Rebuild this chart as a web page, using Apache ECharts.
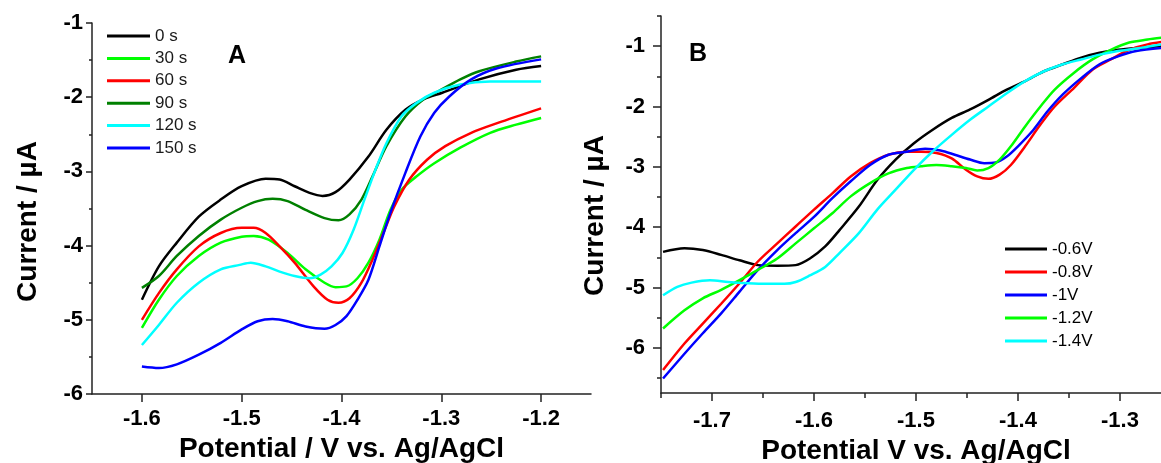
<!DOCTYPE html>
<html>
<head>
<meta charset="utf-8">
<script src="https://cdn.jsdelivr.net/npm/echarts@6/dist/echarts.min.js"></script>
<style>
  html, body { margin: 0; padding: 0; background: #fff; }
  #main { width: 1161px; height: 463px; }
</style>
</head>
<body>
<div id="main"></div>
<script>
// panel A : deposition time series  [potential V, current uA]
var namesA = ['0 s', '30 s', '60 s', '90 s', '120 s', '150 s'];
var colorsA = ['#000000', '#00ff00', '#ff0000', '#008000', '#00ffff', '#0000ff'];

var a0 = [[-1.6,-4.73],[-1.583,-4.28],[-1.565,-3.96],[-1.543,-3.61],[-1.521,-3.38],[-1.5,-3.2],[-1.476,-3.10],[-1.462,-3.11],[-1.447,-3.20],[-1.432,-3.29],[-1.419,-3.33],[-1.406,-3.28],[-1.392,-3.11],[-1.373,-2.80],[-1.355,-2.44],[-1.336,-2.17],[-1.318,-2.03],[-1.299,-1.94],[-1.262,-1.76],[-1.225,-1.63],[-1.2,-1.58]];
var a30 = [[-1.6,-5.11],[-1.583,-4.73],[-1.565,-4.41],[-1.543,-4.14],[-1.521,-3.96],[-1.5,-3.88],[-1.488,-3.87],[-1.473,-3.92],[-1.454,-4.10],[-1.436,-4.32],[-1.417,-4.50],[-1.406,-4.56],[-1.395,-4.55],[-1.384,-4.44],[-1.373,-4.23],[-1.362,-3.92],[-1.351,-3.52],[-1.340,-3.25],[-1.325,-3.07],[-1.307,-2.89],[-1.281,-2.68],[-1.251,-2.48],[-1.225,-2.37],[-1.2,-2.28]];
var a60 = [[-1.6,-5.0],[-1.583,-4.64],[-1.565,-4.32],[-1.543,-4.01],[-1.521,-3.83],[-1.5,-3.76],[-1.488,-3.76],[-1.476,-3.83],[-1.462,-4.01],[-1.447,-4.23],[-1.428,-4.55],[-1.414,-4.73],[-1.403,-4.77],[-1.392,-4.71],[-1.380,-4.50],[-1.369,-4.19],[-1.358,-3.83],[-1.347,-3.47],[-1.332,-3.11],[-1.314,-2.84],[-1.296,-2.66],[-1.270,-2.48],[-1.244,-2.35],[-1.2,-2.15]];
var a90 = [[-1.6,-4.57],[-1.583,-4.41],[-1.565,-4.14],[-1.543,-3.87],[-1.521,-3.65],[-1.5,-3.49],[-1.484,-3.40],[-1.469,-3.37],[-1.454,-3.40],[-1.436,-3.52],[-1.417,-3.63],[-1.403,-3.66],[-1.392,-3.58],[-1.380,-3.38],[-1.369,-3.07],[-1.355,-2.66],[-1.336,-2.26],[-1.318,-2.03],[-1.303,-1.92],[-1.281,-1.76],[-1.262,-1.65],[-1.225,-1.52],[-1.2,-1.45]];
var a120 = [[-1.6,-5.34],[-1.583,-5.07],[-1.565,-4.77],[-1.543,-4.50],[-1.521,-4.32],[-1.502,-4.26],[-1.491,-4.23],[-1.476,-4.28],[-1.462,-4.35],[-1.447,-4.41],[-1.432,-4.44],[-1.421,-4.39],[-1.410,-4.28],[-1.399,-4.10],[-1.388,-3.79],[-1.377,-3.38],[-1.366,-2.98],[-1.355,-2.62],[-1.340,-2.26],[-1.325,-2.08],[-1.307,-1.94],[-1.281,-1.83],[-1.251,-1.79],[-1.2,-1.79]];
var a150 = [[-1.6,-5.63],[-1.583,-5.65],[-1.565,-5.60],[-1.543,-5.47],[-1.521,-5.31],[-1.5,-5.13],[-1.484,-5.02],[-1.469,-4.99],[-1.454,-5.02],[-1.436,-5.09],[-1.417,-5.12],[-1.406,-5.07],[-1.395,-4.95],[-1.384,-4.73],[-1.373,-4.46],[-1.362,-4.01],[-1.351,-3.56],[-1.336,-3.02],[-1.321,-2.53],[-1.307,-2.21],[-1.292,-1.99],[-1.270,-1.76],[-1.244,-1.61],[-1.2,-1.49]];
var dataA = [a0, a30, a60, a90, a120, a150];

// panel B : deposition potential series
var namesB = ['-0.6V', '-0.8V', '-1V', '-1.2V', '-1.4V'];
var colorsB = ['#000000', '#ff0000', '#0000ff', '#00ff00', '#00ffff'];

var b06 = [[-1.748,-4.41],[-1.727,-4.35],[-1.709,-4.38],[-1.691,-4.46],[-1.673,-4.55],[-1.655,-4.63],[-1.636,-4.64],[-1.618,-4.63],[-1.604,-4.52],[-1.589,-4.32],[-1.575,-4.05],[-1.556,-3.66],[-1.538,-3.22],[-1.520,-2.88],[-1.502,-2.61],[-1.484,-2.39],[-1.465,-2.19],[-1.447,-2.05],[-1.429,-1.89],[-1.411,-1.72],[-1.393,-1.58],[-1.375,-1.42],[-1.356,-1.30],[-1.338,-1.19],[-1.320,-1.11],[-1.302,-1.06],[-1.284,-1.03],[-1.259,-1.0]];
var b08 = [[-1.748,-6.37],[-1.727,-5.93],[-1.709,-5.60],[-1.691,-5.27],[-1.673,-4.93],[-1.655,-4.57],[-1.636,-4.27],[-1.618,-3.99],[-1.600,-3.71],[-1.582,-3.44],[-1.564,-3.16],[-1.545,-2.94],[-1.527,-2.80],[-1.509,-2.75],[-1.495,-2.75],[-1.480,-2.77],[-1.465,-2.86],[-1.451,-3.05],[-1.440,-3.16],[-1.429,-3.20],[-1.418,-3.13],[-1.407,-2.97],[-1.393,-2.66],[-1.378,-2.30],[-1.364,-2.00],[-1.345,-1.69],[-1.327,-1.39],[-1.309,-1.22],[-1.291,-1.06],[-1.273,-0.97],[-1.259,-0.93]];
var b10 = [[-1.748,-6.51],[-1.727,-6.10],[-1.709,-5.76],[-1.691,-5.43],[-1.673,-5.07],[-1.655,-4.71],[-1.636,-4.38],[-1.618,-4.10],[-1.600,-3.83],[-1.582,-3.52],[-1.564,-3.24],[-1.545,-2.97],[-1.527,-2.80],[-1.509,-2.75],[-1.491,-2.70],[-1.476,-2.73],[-1.462,-2.80],[-1.447,-2.88],[-1.433,-2.94],[-1.422,-2.93],[-1.411,-2.83],[-1.400,-2.66],[-1.385,-2.39],[-1.371,-2.08],[-1.356,-1.80],[-1.338,-1.53],[-1.320,-1.30],[-1.302,-1.17],[-1.284,-1.08],[-1.259,-1.03]];
var b12 = [[-1.748,-5.68],[-1.727,-5.38],[-1.709,-5.18],[-1.691,-5.04],[-1.673,-4.88],[-1.655,-4.71],[-1.636,-4.52],[-1.618,-4.27],[-1.600,-4.02],[-1.582,-3.77],[-1.564,-3.49],[-1.545,-3.27],[-1.527,-3.11],[-1.509,-3.02],[-1.495,-2.99],[-1.480,-2.97],[-1.465,-2.99],[-1.451,-3.02],[-1.440,-3.06],[-1.429,-3.02],[-1.418,-2.88],[-1.407,-2.66],[-1.393,-2.33],[-1.378,-2.00],[-1.364,-1.72],[-1.345,-1.44],[-1.327,-1.22],[-1.309,-1.06],[-1.291,-0.94],[-1.273,-0.89],[-1.259,-0.86]];
var b14 = [[-1.748,-5.13],[-1.734,-4.99],[-1.720,-4.92],[-1.702,-4.88],[-1.684,-4.91],[-1.665,-4.93],[-1.647,-4.94],[-1.629,-4.94],[-1.618,-4.91],[-1.604,-4.80],[-1.589,-4.66],[-1.575,-4.43],[-1.556,-4.10],[-1.538,-3.71],[-1.520,-3.38],[-1.502,-3.05],[-1.484,-2.75],[-1.465,-2.47],[-1.447,-2.22],[-1.429,-2.00],[-1.411,-1.78],[-1.393,-1.58],[-1.375,-1.42],[-1.356,-1.30],[-1.338,-1.22],[-1.320,-1.14],[-1.302,-1.08],[-1.284,-1.04],[-1.259,-0.97]];
var dataB = [b06, b08, b10, b12, b14];

// tick values
var ticksAx = [-1.6, -1.5, -1.4, -1.3, -1.2];
var ticksBx = [-1.7, -1.6, -1.5, -1.4, -1.3];
var minorBx = [-1.75, -1.65, -1.55, -1.45, -1.35, -1.25];
var ticksBy = [-6, -5, -4, -3, -2, -1];
var minorBy = [-6.5, -5.5, -4.5, -3.5, -2.5, -1.5, -0.5];

var font = 'Liberation Sans, Arial, sans-serif';
var axisColor = '#222';

var chart = echarts.init(document.getElementById('main'));

var labelStyle = { color: '#000', fontSize: 22, fontWeight: 'bold', fontFamily: font };
var nameStyle = { color: '#000', fontSize: 28, fontWeight: 'bold', fontFamily: font };
var lineStyle = { color: axisColor, width: 1.5 };

var series = [];
dataA.forEach(function (d, i) {
  series.push({
    name: namesA[i], type: 'line', xAxisIndex: 0, yAxisIndex: 0,
    data: d, symbol: 'none', smooth: 0.3, color: colorsA[i],
    lineStyle: { width: 2.5 }
  });
});
dataB.forEach(function (d, i) {
  series.push({
    name: namesB[i], type: 'line', xAxisIndex: 1, yAxisIndex: 1,
    data: d, symbol: 'none', smooth: 0.3, color: colorsB[i],
    lineStyle: { width: 2.5 }
  });
});

var option = {
  backgroundColor: '#fff',
  animation: false,
  title: [
    { text: 'A', left: 223, top: 39, textStyle: { fontSize: 25, fontWeight: 'bold', color: '#000', fontFamily: font } },
    { text: 'B', left: 684, top: 37, textStyle: { fontSize: 25, fontWeight: 'bold', color: '#000', fontFamily: font } }
  ],
  legend: [
    {
      data: namesA, orient: 'vertical', left: 107, top: 27, padding: 0,
      icon: 'rect', itemWidth: 43, itemHeight: 3, itemGap: 4.4,
      textStyle: { fontSize: 17, color: '#1a1a1a', fontFamily: font, lineHeight: 18 }
    },
    {
      data: namesB, orient: 'vertical', left: 1005, top: 240, padding: 0,
      icon: 'rect', itemWidth: 42, itemHeight: 3, itemGap: 5,
      textStyle: { fontSize: 17, color: '#000', fontFamily: font, lineHeight: 18 }
    }
  ],
  grid: [
    { left: 92, top: 23, width: 499, height: 371, outerBoundsMode: 'none', containLabel: false },
    { left: 661, top: 16, width: 510, height: 377, outerBoundsMode: 'none', containLabel: false }
  ],
  xAxis: [
    {
      gridIndex: 0, type: 'value', position: 'bottom', min: -1.65, max: -1.15,
      name: 'Potential / V vs. Ag/AgCl', nameLocation: 'middle', nameGap: 38, nameTextStyle: nameStyle,
      axisLine: { onZero: false, lineStyle: lineStyle },
      axisTick: { customValues: ticksAx, length: 8, lineStyle: lineStyle },
      axisLabel: Object.assign({ customValues: ticksAx, margin: 14, formatter: function (v) { return v.toFixed(1); } }, labelStyle),
      splitLine: { show: false }
    },
    {
      gridIndex: 1, type: 'value', position: 'bottom', min: -1.75, max: -1.25,
      name: 'Potential V vs. Ag/AgCl', nameLocation: 'middle', nameGap: 38, nameTextStyle: nameStyle,
      axisLine: { onZero: false, lineStyle: lineStyle },
      axisTick: { customValues: ticksBx, length: 8, lineStyle: lineStyle },
      axisLabel: Object.assign({ customValues: ticksBx, margin: 17, formatter: function (v) { return v.toFixed(1); } }, labelStyle),
      splitLine: { show: false }
    },
    {
      // minor ticks of B
      gridIndex: 1, type: 'value', position: 'bottom', min: -1.75, max: -1.25,
      axisLine: { show: false, onZero: false },
      axisTick: { customValues: minorBx, length: 5, lineStyle: lineStyle },
      axisLabel: { show: false },
      splitLine: { show: false }
    }
  ],
  yAxis: [
    {
      gridIndex: 0, type: 'value', position: 'left', min: -6, max: -1, interval: 1,
      name: 'Current / µA', nameLocation: 'middle', nameGap: 50,
      nameTextStyle: Object.assign({ padding: [0, 26, 0, 0] }, nameStyle),
      axisLine: { show: true, onZero: false, lineStyle: lineStyle },
      axisTick: { show: true, length: 6, lineStyle: lineStyle },
      minorTick: { show: true, splitNumber: 2, length: 3, lineStyle: lineStyle },
      axisLabel: Object.assign({ margin: 9 }, labelStyle),
      splitLine: { show: false }
    },
    {
      gridIndex: 1, type: 'value', position: 'left', min: -6.75, max: -0.5,
      name: 'Current / µA', nameLocation: 'middle', nameGap: 52,
      nameTextStyle: Object.assign({ padding: [0, 22, 0, 0] }, nameStyle),
      axisLine: { show: true, onZero: false, lineStyle: lineStyle },
      axisTick: { show: true, customValues: ticksBy, length: 8, lineStyle: lineStyle },
      axisLabel: Object.assign({ customValues: ticksBy, margin: 16 }, labelStyle),
      splitLine: { show: false }
    },
    {
      // minor ticks of B
      gridIndex: 1, type: 'value', position: 'left', min: -6.75, max: -0.5,
      axisLine: { show: false, onZero: false },
      axisTick: { show: true, customValues: minorBy, length: 4, lineStyle: lineStyle },
      axisLabel: { show: false },
      splitLine: { show: false }
    }
  ],
  series: series
};

chart.setOption(option);
</script>
</body>
</html>
